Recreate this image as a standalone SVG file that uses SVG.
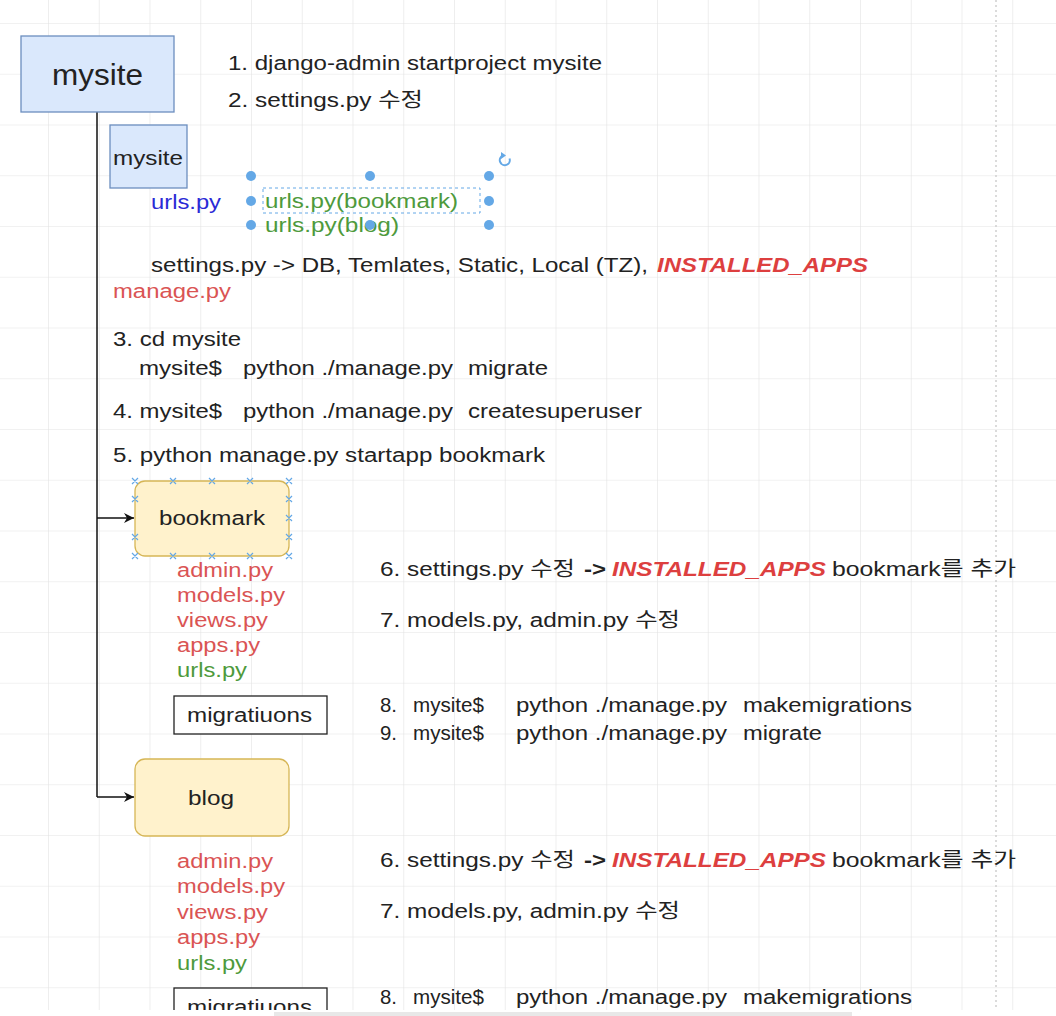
<svg xmlns="http://www.w3.org/2000/svg" width="1056" height="1016" viewBox="0 0 1056 1016">
<style>
.t{font-family:"Liberation Sans",Arial,"Noto Sans CJK KR",sans-serif;font-size:20px;fill:#222}
.red{fill:#da5454}
.grn{fill:#4e9a3c}
.blu{fill:#2b2bd6}
.ia{font-weight:bold;font-style:italic;fill:#dd3f3f}
.b{font-weight:bold}
.blue-box{fill:#dae8fc;stroke:#6c8ebf;stroke-width:1.3}
.yel-box{fill:#fff2cc;stroke:#d6b656;stroke-width:1.3}
.wbox{fill:#fff;stroke:#222;stroke-width:1.3}
.h{fill:#64a8e6}
.xm{stroke:#64a8e6;stroke-width:1.2;fill:none}
</style>
<defs>
<pattern id="grid" x="48" y="23" width="50.75" height="50.75" patternUnits="userSpaceOnUse">
<path d="M0 0H50.75M0 0V50.75" stroke="#e3e3e3" stroke-width="1.2" fill="none"/>
</pattern>
<marker id="arr" viewBox="0 0 10 10" refX="10" refY="5" markerWidth="10" markerHeight="10" markerUnits="userSpaceOnUse" orient="auto">
<path d="M0 0L10 5L0 10L3 5Z" fill="#111"/>
</marker>
</defs>
<rect width="1056" height="1016" fill="#fff"/>
<rect width="1056" height="1016" fill="url(#grid)"/>
<line x1="996" y1="0" x2="996" y2="1016" stroke="#cfcfcf" stroke-width="1.5" stroke-dasharray="2 3"/>

<g id="connectors" fill="none" stroke="#111" stroke-width="1.5">
<path d="M97 112V797"/>
<path d="M97 518H134" marker-end="url(#arr)"/>
<path d="M97 797H134" marker-end="url(#arr)"/>
</g>

<g id="node-mysite">
<rect class="blue-box" x="21" y="36" width="153" height="76"/>
<text class="t" x="52" y="85" style="font-size:30px" textLength="91" lengthAdjust="spacingAndGlyphs">mysite</text>
</g>

<g id="steps-top">
<text class="t" x="228" y="70" textLength="374" lengthAdjust="spacingAndGlyphs">1. django-admin startproject mysite</text>
<text class="t" x="228" y="107" textLength="195" lengthAdjust="spacingAndGlyphs">2. settings.py 수정</text>
</g>

<g id="node-mysite-inner">
<rect class="blue-box" x="110" y="125" width="77" height="63"/>
<text class="t" x="113" y="165" textLength="70" lengthAdjust="spacingAndGlyphs">mysite</text>
</g>

<g id="mysite-files">
<text class="t blu" x="151" y="209" textLength="70" lengthAdjust="spacingAndGlyphs">urls.py</text>
<text class="t grn" x="265" y="208" textLength="193" lengthAdjust="spacingAndGlyphs">urls.py(bookmark)</text>
<text class="t grn" x="265" y="232" textLength="134" lengthAdjust="spacingAndGlyphs">urls.py(blog)</text>
<text class="t" x="151" y="272" textLength="497" lengthAdjust="spacingAndGlyphs">settings.py -&gt; DB, Temlates, Static, Local (TZ),</text>
<text class="t ia" x="657" y="272" textLength="211" lengthAdjust="spacingAndGlyphs">INSTALLED_APPS</text>
<text class="t red" x="113" y="298" textLength="118" lengthAdjust="spacingAndGlyphs">manage.py</text>
</g>

<g id="selection">
<rect x="263" y="188" width="217" height="25" fill="none" stroke="#64a8e6" stroke-width="1" stroke-dasharray="3 3"/>
<circle class="h" cx="251" cy="176" r="5"/>
<circle class="h" cx="370" cy="176" r="5"/>
<circle class="h" cx="489" cy="176" r="5"/>
<circle class="h" cx="251" cy="201" r="5"/>
<circle class="h" cx="489" cy="201" r="5"/>
<circle class="h" cx="251" cy="225" r="5"/>
<circle class="h" cx="370" cy="225" r="5"/>
<circle class="h" cx="489" cy="225" r="5"/>
<path d="M509.5 158.5A5 5 0 1 1 503 155.5" fill="none" stroke="#64a8e6" stroke-width="2"/>
<path d="M501 152L506 155.5L501 159Z" fill="#64a8e6"/>
</g>

<g id="steps-mid">
<text class="t" x="113" y="346" textLength="128" lengthAdjust="spacingAndGlyphs">3. cd mysite</text>
<text class="t" x="139" y="375" textLength="83" lengthAdjust="spacingAndGlyphs">mysite$</text>
<text class="t" x="243" y="375" textLength="210" lengthAdjust="spacingAndGlyphs">python ./manage.py</text>
<text class="t" x="468" y="375" textLength="80" lengthAdjust="spacingAndGlyphs">migrate</text>
<text class="t" x="113" y="418" textLength="109" lengthAdjust="spacingAndGlyphs">4. mysite$</text>
<text class="t" x="243" y="418" textLength="210" lengthAdjust="spacingAndGlyphs">python ./manage.py</text>
<text class="t" x="468" y="418" textLength="174" lengthAdjust="spacingAndGlyphs">createsuperuser</text>
<text class="t" x="113" y="462" textLength="432" lengthAdjust="spacingAndGlyphs">5. python manage.py startapp bookmark</text>
</g>

<g id="node-bookmark">
<rect class="yel-box" x="135" y="481" width="154" height="75" rx="10"/>
<text class="t" x="159" y="525" textLength="106" lengthAdjust="spacingAndGlyphs">bookmark</text>
<path class="xm" d="M132 478l6 6m0-6l-6 6M170 478l6 6m0-6l-6 6M209 478l6 6m0-6l-6 6M247 478l6 6m0-6l-6 6M286 478l6 6m0-6l-6 6M132 553l6 6m0-6l-6 6M170 553l6 6m0-6l-6 6M209 553l6 6m0-6l-6 6M247 553l6 6m0-6l-6 6M286 553l6 6m0-6l-6 6M132 496l6 6m0-6l-6 6M132 534l6 6m0-6l-6 6M286 496l6 6m0-6l-6 6M286 515l6 6m0-6l-6 6M286 534l6 6m0-6l-6 6"/>
</g>

<g id="bookmark-files">
<text class="t red" x="177" y="577" textLength="96" lengthAdjust="spacingAndGlyphs">admin.py</text>
<text class="t red" x="177" y="602" textLength="108" lengthAdjust="spacingAndGlyphs">models.py</text>
<text class="t red" x="177" y="627" textLength="91" lengthAdjust="spacingAndGlyphs">views.py</text>
<text class="t red" x="177" y="652" textLength="83" lengthAdjust="spacingAndGlyphs">apps.py</text>
<text class="t grn" x="177" y="677" textLength="70" lengthAdjust="spacingAndGlyphs">urls.py</text>
</g>

<g id="node-migrations-1">
<rect class="wbox" x="174" y="696" width="153" height="38"/>
<text class="t" x="187" y="722" textLength="125" lengthAdjust="spacingAndGlyphs">migratiuons</text>
</g>

<g id="steps-bookmark">
<text class="t" x="380" y="576" textLength="195" lengthAdjust="spacingAndGlyphs">6. settings.py 수정</text>
<text class="t b" x="584" y="576" textLength="22" lengthAdjust="spacingAndGlyphs">-&gt;</text>
<text class="t ia" x="612" y="576" textLength="214" lengthAdjust="spacingAndGlyphs">INSTALLED_APPS</text>
<text class="t" x="832" y="576" textLength="184" lengthAdjust="spacingAndGlyphs">bookmark를 추가</text>
<text class="t" x="380" y="627" textLength="300" lengthAdjust="spacingAndGlyphs">7. models.py, admin.py 수정</text>
<text class="t" x="380" y="712" textLength="17" lengthAdjust="spacingAndGlyphs">8.</text>
<text class="t" x="413" y="712" textLength="71" lengthAdjust="spacingAndGlyphs">mysite$</text>
<text class="t" x="516" y="712" textLength="211" lengthAdjust="spacingAndGlyphs">python ./manage.py</text>
<text class="t" x="743" y="712" textLength="169" lengthAdjust="spacingAndGlyphs">makemigrations</text>
<text class="t" x="380" y="740" textLength="17" lengthAdjust="spacingAndGlyphs">9.</text>
<text class="t" x="413" y="740" textLength="71" lengthAdjust="spacingAndGlyphs">mysite$</text>
<text class="t" x="516" y="740" textLength="211" lengthAdjust="spacingAndGlyphs">python ./manage.py</text>
<text class="t" x="743" y="740" textLength="79" lengthAdjust="spacingAndGlyphs">migrate</text>
</g>

<g id="node-blog">
<rect class="yel-box" x="135" y="759" width="154" height="77" rx="10"/>
<text class="t" x="188" y="805" textLength="46" lengthAdjust="spacingAndGlyphs">blog</text>
</g>

<g id="blog-files">
<text class="t red" x="177" y="868" textLength="96" lengthAdjust="spacingAndGlyphs">admin.py</text>
<text class="t red" x="177" y="893" textLength="108" lengthAdjust="spacingAndGlyphs">models.py</text>
<text class="t red" x="177" y="919" textLength="91" lengthAdjust="spacingAndGlyphs">views.py</text>
<text class="t red" x="177" y="944" textLength="83" lengthAdjust="spacingAndGlyphs">apps.py</text>
<text class="t grn" x="177" y="970" textLength="70" lengthAdjust="spacingAndGlyphs">urls.py</text>
</g>

<g id="steps-blog">
<text class="t" x="380" y="867" textLength="195" lengthAdjust="spacingAndGlyphs">6. settings.py 수정</text>
<text class="t b" x="584" y="867" textLength="22" lengthAdjust="spacingAndGlyphs">-&gt;</text>
<text class="t ia" x="612" y="867" textLength="214" lengthAdjust="spacingAndGlyphs">INSTALLED_APPS</text>
<text class="t" x="832" y="867" textLength="184" lengthAdjust="spacingAndGlyphs">bookmark를 추가</text>
<text class="t" x="380" y="918" textLength="300" lengthAdjust="spacingAndGlyphs">7. models.py, admin.py 수정</text>
<text class="t" x="380" y="1004" textLength="17" lengthAdjust="spacingAndGlyphs">8.</text>
<text class="t" x="413" y="1004" textLength="71" lengthAdjust="spacingAndGlyphs">mysite$</text>
<text class="t" x="516" y="1004" textLength="211" lengthAdjust="spacingAndGlyphs">python ./manage.py</text>
<text class="t" x="743" y="1004" textLength="169" lengthAdjust="spacingAndGlyphs">makemigrations</text>
</g>

<g id="node-migrations-2">
<rect class="wbox" x="174" y="988" width="153" height="38"/>
<text class="t" x="187" y="1014" textLength="125" lengthAdjust="spacingAndGlyphs">migratiuons</text>
</g>

<rect x="0" y="1010" width="1056" height="6" fill="#fff"/>
<rect x="274" y="1012" width="578" height="4" fill="#e8e8e8"/>
</svg>
